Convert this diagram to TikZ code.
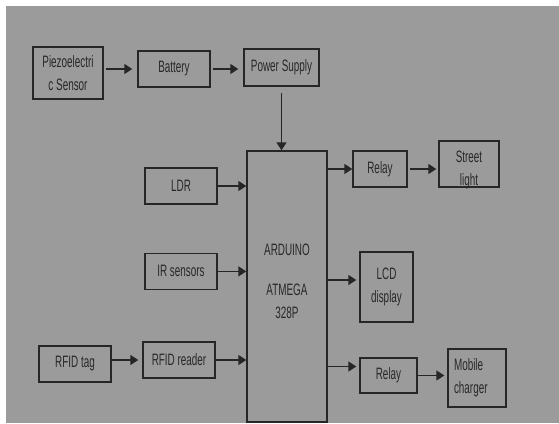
\documentclass[tikz,border=0pt]{standalone}
\usepackage{fontspec}
\setmainfont{Liberation Sans}[FakeStretch=0.6]
\usetikzlibrary{positioning,arrows.meta}
\definecolor{bggray}{RGB}{155,155,155}
\definecolor{linegray}{RGB}{38,38,38}
\definecolor{textgray}{RGB}{40,40,40}

\begin{document}
\begin{tikzpicture}[
x=1pt, y=-1pt,
node distance={48pt},
>={Triangle[length=8pt,width=10pt]},
font=\fontsize{16.5}{23}\selectfont,
block/.style = {draw=linegray, line width=1.4pt, text=textgray, align=center, inner sep=0pt, minimum width=72pt, minimum height=36pt},
link/.style = {->, draw=linegray, line width=1.4pt} ]
\useasboundingbox (0,0) rectangle (559,423);
\fill[bggray] (6,6) rectangle (559,423);

% inputs
\node[block, minimum width=70pt, minimum height=52pt] (piezo) at (68,73) {Piezoelectri\\c Sensor};
\node[block] (battery) at (174,69) {Battery};
\node[block, minimum width=75pt, minimum height=37pt] (power) at (281.5,67.5) {Power Supply};
\node[block] (ldr) at (181,186) {LDR};
\node[block] (ir) [below=of ldr] {IR sensors};
\node[block] (rfidtag) at (75,364) {RFID tag};
\node[block] (rfidreader) at (179,360) {RFID reader};

% controller
\node[block, minimum width=80pt, minimum height=271pt] (arduino) at (287,286.5) {};
\node[text=textgray, align=center] (arduinotxt) at ([yshift=5pt]arduino.center) {ARDUINO\\[17pt]ATMEGA\\328P};

% outputs
\node[block, minimum width=54pt] (relay1) at (380,169) {Relay};
\node[block, minimum width=60pt, minimum height=46pt] (street) at (469,164) {};
\node[text=textgray, align=center] (streettxt) at ([yshift=-6pt]street.center) {Street\\light};
\node[block, minimum width=53pt, minimum height=70pt] (lcd) at (386.5,287) {LCD\\display};
\node[block, minimum width=57pt, minimum height=35pt] (relay2) at (388.5,375.5) {Relay};
\node[block, minimum width=58pt, minimum height=58pt, text width=46pt, align=left] (mobile) at (477,378) {Mobile\\charger};

\draw[link, shorten <=2pt, shorten >=5pt] (piezo.east |- battery) -- (battery.west);
\draw[link, shorten <=2pt, shorten >=5pt] (battery.east) -- (battery -| power.west);
\draw[link, shorten <=6pt] (power.south) -- (power.south |- arduino.north);
\draw[link] (ldr.east) -- (ldr -| arduino.west);
\draw[link] (ir.east) -- (ir -| arduino.west);
\draw[link, shorten >=4pt] (rfidtag.east |- rfidreader) -- (rfidreader.west);
\draw[link] (rfidreader.east) -- (rfidreader -| arduino.west);
\draw[link] (relay1 -| arduino.east) -- (relay1.west);
\draw[link, shorten <=2pt, shorten >=2pt] (relay1.east) -- (relay1 -| street.west);
\draw[link, shorten >=3pt] ([yshift=7pt]arduino.east |- lcd.west) -- ([yshift=7pt]lcd.west);
\draw[link, shorten >=3pt] ([yshift=9pt]arduino.east |- relay2.west) -- ([yshift=9pt]relay2.west);
\draw[link, shorten >=3pt] (relay2.east) -- (relay2 -| mobile.west);

\end{tikzpicture}
\end{document}
